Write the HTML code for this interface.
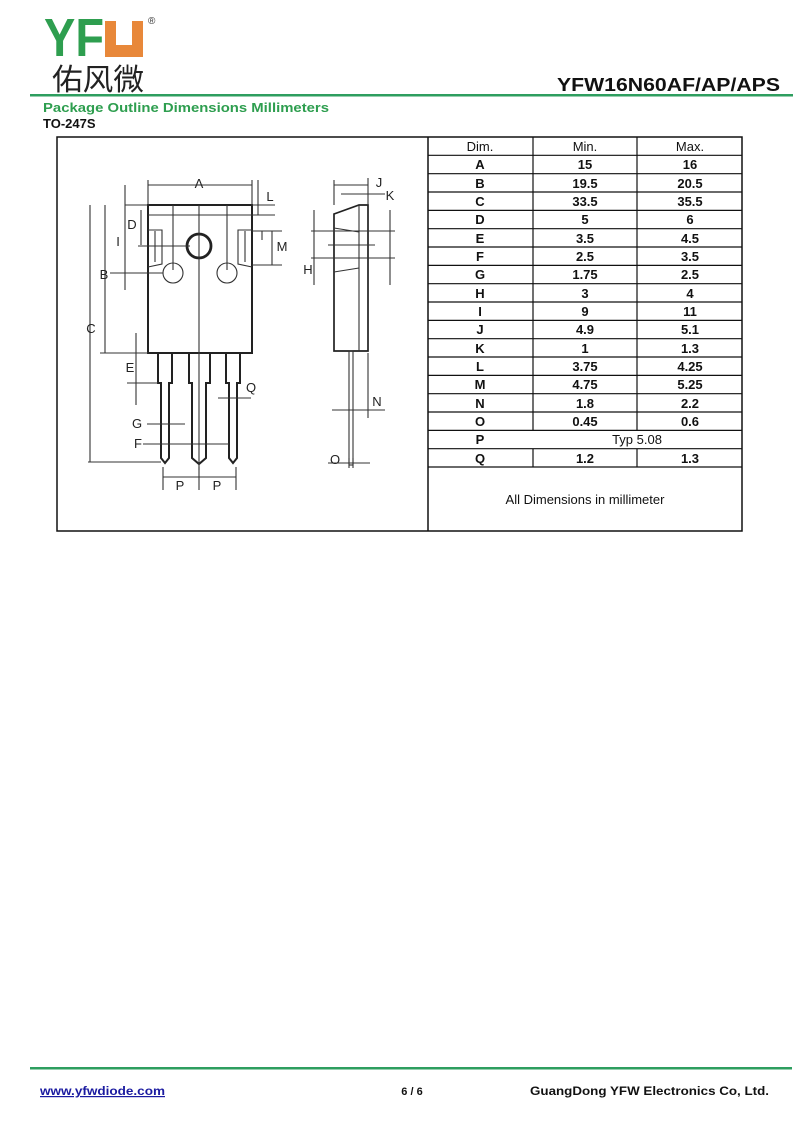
<!DOCTYPE html>
<html><head><meta charset="utf-8"><style>
body{margin:0;background:#fff;}
svg{display:block}
</style></head><body>
<svg width="800" height="1130" viewBox="0 0 800 1130" xmlns="http://www.w3.org/2000/svg" font-family="Liberation Sans, sans-serif">
<rect width="800" height="1130" fill="#fff"/>
<!-- logo -->
<text x="44" y="56" font-size="54" font-weight="bold" fill="#2e9e4f" textLength="60" lengthAdjust="spacingAndGlyphs">YF</text>
<path d="M105 21 h11 v24 h16 v-24 h11 v36 h-38 z" fill="#e8883a"/>
<text x="148" y="24" font-size="10" fill="#333">®</text>
<text x="52" y="90" font-size="30" fill="#222" font-family="Noto Sans CJK SC, sans-serif" textLength="92" lengthAdjust="spacingAndGlyphs">佑风微</text>
<text x="557" y="91" font-size="18" font-weight="bold" fill="#111" textLength="223" lengthAdjust="spacingAndGlyphs">YFW16N60AF/AP/APS</text>
<rect x="30" y="94" width="763" height="2.5" fill="#2e9e5f"/>
<text x="43" y="112" font-size="13" font-weight="bold" fill="#2e9e4f" textLength="286" lengthAdjust="spacingAndGlyphs">Package Outline Dimensions Millimeters</text>
<text x="43" y="128" font-size="13" font-weight="bold" fill="#111">TO-247S</text>
<!-- frame -->
<rect x="57" y="137" width="685" height="394" fill="none" stroke="#111" stroke-width="1.5"/>
<line x1="428" y1="137" x2="428" y2="531" stroke="#111" stroke-width="1.5"/>
<g stroke="#111" stroke-width="1.2">
<line x1="533" y1="137" x2="533" y2="431"/><line x1="533" y1="449" x2="533" y2="467"/>
<line x1="637" y1="137" x2="637" y2="431"/><line x1="637" y1="449" x2="637" y2="467"/>
<line x1="428" y1="155.3" x2="742" y2="155.3"/><line x1="428" y1="173.7" x2="742" y2="173.7"/>
<line x1="428" y1="192" x2="742" y2="192"/><line x1="428" y1="210.4" x2="742" y2="210.4"/>
<line x1="428" y1="228.7" x2="742" y2="228.7"/><line x1="428" y1="247" x2="742" y2="247"/>
<line x1="428" y1="265.4" x2="742" y2="265.4"/><line x1="428" y1="283.7" x2="742" y2="283.7"/>
<line x1="428" y1="302" x2="742" y2="302"/><line x1="428" y1="320.4" x2="742" y2="320.4"/>
<line x1="428" y1="338.7" x2="742" y2="338.7"/><line x1="428" y1="357" x2="742" y2="357"/>
<line x1="428" y1="375.4" x2="742" y2="375.4"/><line x1="428" y1="393.7" x2="742" y2="393.7"/>
<line x1="428" y1="412" x2="742" y2="412"/><line x1="428" y1="430.4" x2="742" y2="430.4"/>
<line x1="428" y1="448.7" x2="742" y2="448.7"/><line x1="428" y1="467" x2="742" y2="467"/>
</g>
<g font-size="13" fill="#111" text-anchor="middle">
<text x="480" y="151">Dim.</text><text x="585" y="151">Min.</text><text x="690" y="151">Max.</text>
<g font-weight="bold">
<text x="480" y="169">A</text><text x="585" y="169">15</text><text x="690" y="169">16</text>
<text x="480" y="188">B</text><text x="585" y="188">19.5</text><text x="690" y="188">20.5</text>
<text x="480" y="206">C</text><text x="585" y="206">33.5</text><text x="690" y="206">35.5</text>
<text x="480" y="224">D</text><text x="585" y="224">5</text><text x="690" y="224">6</text>
<text x="480" y="243">E</text><text x="585" y="243">3.5</text><text x="690" y="243">4.5</text>
<text x="480" y="261">F</text><text x="585" y="261">2.5</text><text x="690" y="261">3.5</text>
<text x="480" y="279">G</text><text x="585" y="279">1.75</text><text x="690" y="279">2.5</text>
<text x="480" y="298">H</text><text x="585" y="298">3</text><text x="690" y="298">4</text>
<text x="480" y="316">I</text><text x="585" y="316">9</text><text x="690" y="316">11</text>
<text x="480" y="334">J</text><text x="585" y="334">4.9</text><text x="690" y="334">5.1</text>
<text x="480" y="353">K</text><text x="585" y="353">1</text><text x="690" y="353">1.3</text>
<text x="480" y="371">L</text><text x="585" y="371">3.75</text><text x="690" y="371">4.25</text>
<text x="480" y="389">M</text><text x="585" y="389">4.75</text><text x="690" y="389">5.25</text>
<text x="480" y="408">N</text><text x="585" y="408">1.8</text><text x="690" y="408">2.2</text>
<text x="480" y="426">O</text><text x="585" y="426">0.45</text><text x="690" y="426">0.6</text>
<text x="480" y="444">P</text><text x="637" y="444" font-weight="normal">Typ 5.08</text>
<text x="480" y="463">Q</text><text x="585" y="463">1.2</text><text x="690" y="463">1.3</text>
</g>
<text x="585" y="504">All Dimensions in millimeter</text>
</g>
<!-- front view -->
<g stroke="#222" fill="none" stroke-width="2">
<rect x="148" y="205" width="104" height="148"/>
<circle cx="199" cy="246" r="12" stroke-width="2.8"/>
<path d="M158 353 V383 H161 V458 L165 463 L169 458 V383 H172 V353"/>
<path d="M189 353 V383 H192 V458 L199 464 L206 458 V383 H210 V353"/>
<path d="M226 353 V383 H229 V458 L233 463 L237 458 V383 H240 V353"/>
</g>
<g stroke="#333" fill="none" stroke-width="1.1">
<line x1="148" y1="215" x2="252" y2="215"/>
<circle cx="173" cy="273" r="10"/><circle cx="227" cy="273" r="10"/>
<path d="M148 230 H162 V264 L148 267"/><path d="M155 231 V262"/>
<path d="M252 230 H238 V264 L252 267"/><path d="M245 231 V262"/>
<line x1="199" y1="205" x2="199" y2="470"/>
<line x1="173" y1="205" x2="173" y2="270"/><line x1="227" y1="205" x2="227" y2="270"/>
<line x1="148" y1="185" x2="252" y2="185"/><line x1="148" y1="180" x2="148" y2="205"/><line x1="252" y1="180" x2="252" y2="205"/>
<line x1="258" y1="180" x2="258" y2="215"/><line x1="252" y1="205" x2="275" y2="205"/><line x1="252" y1="215" x2="275" y2="215"/>
<line x1="252" y1="231" x2="282" y2="231"/><line x1="252" y1="265" x2="282" y2="265"/><line x1="272" y1="231" x2="272" y2="265"/><line x1="262" y1="231" x2="262" y2="240"/>
<line x1="125" y1="205" x2="148" y2="205"/><line x1="141" y1="210" x2="141" y2="245"/>
<line x1="138" y1="246" x2="190" y2="246"/>
<line x1="125" y1="185" x2="125" y2="290"/>
<line x1="110" y1="273" x2="163" y2="273"/>
<line x1="105" y1="205" x2="105" y2="353"/><line x1="100" y1="353" x2="148" y2="353"/>
<line x1="90" y1="205" x2="90" y2="462"/><line x1="88" y1="462" x2="161" y2="462"/>
<line x1="136" y1="333" x2="136" y2="405"/><line x1="127" y1="383" x2="158" y2="383"/>
<line x1="218" y1="398" x2="251" y2="398"/>
<line x1="147" y1="424" x2="185" y2="424"/><line x1="143" y1="444" x2="229" y2="444"/>
<line x1="163" y1="467" x2="163" y2="490"/><line x1="199" y1="467" x2="199" y2="490"/><line x1="236" y1="467" x2="236" y2="490"/>
<line x1="163" y1="477" x2="236" y2="477"/>
<!-- side view -->
<path d="M334 214 L359 205 H368 V351 H334 Z" stroke="#222" stroke-width="1.7"/>
<line x1="359" y1="205" x2="359" y2="351"/>
<path d="M334 228 L359 232 M334 272 L359 268"/>
<rect x="349" y="351" width="4" height="114"/>
<line x1="334" y1="180" x2="334" y2="205"/><line x1="368" y1="178" x2="368" y2="205"/>
<line x1="334" y1="185" x2="368" y2="185"/><line x1="341" y1="194" x2="385" y2="194"/>
<line x1="311" y1="231" x2="395" y2="231"/><line x1="311" y1="258" x2="395" y2="258"/><line x1="328" y1="245" x2="375" y2="245"/>
<line x1="314" y1="210" x2="314" y2="285"/><line x1="390" y1="210" x2="390" y2="285"/>
<line x1="368" y1="353" x2="368" y2="418"/><line x1="332" y1="410" x2="385" y2="410"/>
<line x1="328" y1="463" x2="370" y2="463"/><line x1="349" y1="458" x2="349" y2="468"/><line x1="353" y1="458" x2="353" y2="468"/>
</g>
<g font-size="13" fill="#222" text-anchor="middle">
<text x="199" y="188">A</text><text x="270" y="201">L</text><text x="282" y="251">M</text>
<text x="132" y="229">D</text><text x="118" y="246">I</text><text x="104" y="279">B</text>
<text x="91" y="333">C</text><text x="130" y="372">E</text><text x="251" y="392">Q</text>
<text x="137" y="428">G</text><text x="138" y="448">F</text>
<text x="180" y="490">P</text><text x="217" y="490">P</text>
<text x="379" y="187">J</text><text x="390" y="200">K</text><text x="308" y="274">H</text>
<text x="377" y="406">N</text><text x="335" y="464">O</text>
</g>
<!-- footer -->
<rect x="30" y="1067" width="762" height="2.5" fill="#2e9e5f"/>
<text x="40" y="1095" font-size="12" font-weight="bold" fill="#1a1aa0" text-decoration="underline" textLength="125" lengthAdjust="spacingAndGlyphs">www.yfwdiode.com</text>
<text x="412" y="1095" font-size="11" font-weight="bold" fill="#111" text-anchor="middle">6 / 6</text>
<text x="530" y="1095" font-size="12" font-weight="bold" fill="#111" textLength="239" lengthAdjust="spacingAndGlyphs">GuangDong YFW Electronics Co, Ltd.</text>
</svg>
</body></html>
